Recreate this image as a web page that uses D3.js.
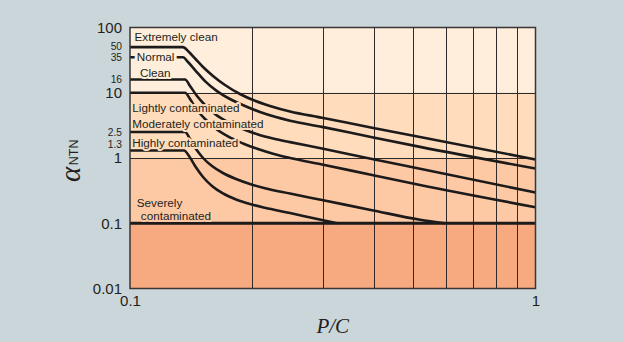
<!DOCTYPE html>
<html><head><meta charset="utf-8">
<script src="https://cdn.jsdelivr.net/npm/d3@7/dist/d3.min.js"></script>
<style>
html,body{margin:0;padding:0;background:#cbd6da;}
svg{display:block;}
</style></head>
<body><svg id="c" width="624" height="342"></svg>
<script>
// ---- data ----
const xTickLabels = [0.1, 1];
const xGridValues = [0.2, 0.3, 0.4, 0.5, 0.6, 0.7, 0.8, 0.9];
const yMajorTicks = [100, 10, 1, 0.1, 0.01];
const yMinorTicks = [50, 35, 16, 2.5, 1.3];
const bandEdges = [100, 10, 1, 0.1, 0.01];
const seriesNames = ["Extremely clean", "Normal", "Clean", "Lightly contaminated",
  "Moderately contaminated", "Highly contaminated", "Severely contaminated"];
const extremelyClean = [[0.1,50],[0.1351,50],[0.1398,42.1],[0.1447,33.5],[0.1514,24.8],[0.1602,18.1],[0.1715,13.15],[0.1867,9.57],[0.2033,7.53],[0.2214,6.27],[0.2481,5.16],[0.2975,4.15],[0.3953,2.91],[0.5191,2.10],[1,0.948]];
const normal = [[0.1,35],[0.1351,35],[0.139,29.6],[0.1447,22.3],[0.1531,15.1],[0.1639,10.6],[0.1764,8.02],[0.1921,6.27],[0.2092,5.07],[0.2278,4.28],[0.2481,3.73],[0.2975,3.0],[0.3953,2.08],[0.5191,1.48],[1,0.69]];
const clean = [[0.1,16],[0.1367,16],[0.1406,12.7],[0.1463,8.92],[0.1531,6.49],[0.162,4.72],[0.1744,3.56],[0.1899,2.78],[0.2068,2.29],[0.2265,1.97],[0.2481,1.75],[0.2975,1.40],[0.3953,0.965],[0.5191,0.683],[1,0.296]];
const lightly = [[0.1,10],[0.1367,10],[0.1406,8.02],[0.1463,5.44],[0.1531,3.96],[0.162,2.88],[0.1744,2.14],[0.1899,1.67],[0.2068,1.37],[0.2265,1.15],[0.2481,1.0],[0.2975,0.795],[0.3953,0.549],[0.5191,0.386],[1,0.176]];
const moderately = [[0.1,2.5],[0.1367,2.5],[0.1406,1.96],[0.1455,1.37],[0.1514,1.0],[0.1593,0.754],[0.1695,0.589],[0.1826,0.477],[0.1976,0.40],[0.2152,0.343],[0.2481,0.285],[0.2975,0.227],[0.3953,0.1585],[0.5191,0.113],[0.5981,0.1]];
const highly = [[0.1,1.3],[0.1359,1.3],[0.1398,1.07],[0.1447,0.754],[0.1514,0.512],[0.1593,0.372],[0.1695,0.286],[0.1826,0.231],[0.1976,0.197],[0.2152,0.1725],[0.2481,0.1436],[0.2859,0.118],[0.3241,0.1]];
const severely = [[0.1,0.1],[1,0.1]];

// ---- layout ----
const svg = d3.select("#c");
const L = 130, R = 535.5, T = 27.5, B = 288.5;
const x = d3.scaleLog().domain([0.1, 1]).range([L, R]);
const y = d3.scaleLog().domain([0.01, 100]).range([B, T]);
const bandColors = ["#feeedb", "#fedcbc", "#fdc9a4", "#f7a97f"];
const bandColor = v => v >= 10 ? bandColors[0] : v >= 1 ? bandColors[1] : v >= 0.1 ? bandColors[2] : bandColors[3];
const ink = "#231f20";

svg.append("rect").attr("width",624).attr("height",342).attr("fill","#cbd6da");

// bands
svg.selectAll("rect.band").data(d3.pairs(bandEdges)).join("rect")
  .attr("class","band")
  .attr("x", L).attr("width", R - L)
  .attr("y", d => y(d[0])).attr("height", d => y(d[1]) - y(d[0]))
  .attr("fill", (d, i) => bandColors[i]);

// grid
const g = svg.append("g").attr("stroke", "#2e2a2a").attr("stroke-width", 1);
g.selectAll("line.v").data(xGridValues).join("line")
  .attr("x1", d => Math.round(x(d)) + 0.5).attr("x2", d => Math.round(x(d)) + 0.5)
  .attr("y1", T).attr("y2", B);
g.selectAll("line.h").data([10, 1]).join("line")
  .attr("y1", d => Math.round(y(d)) + 0.5).attr("y2", d => Math.round(y(d)) + 0.5)
  .attr("x1", L).attr("x2", R);

// curves
const line = d3.line().x(d => x(d[0])).y(d => y(d[1])).curve(d3.curveMonotoneX);
const allSeries = [extremelyClean, normal, clean, lightly, moderately, highly];
svg.append("g").selectAll("path").data(allSeries).join("path")
  .attr("d", line).attr("fill", "none").attr("stroke", "#1c1a1a")
  .attr("stroke-width", 2.6).attr("stroke-linejoin", "round");
svg.append("path").datum(severely).attr("d", d3.line().x(d => x(d[0])).y(d => y(d[1])))
  .attr("fill", "none").attr("stroke", "#1c1a1a").attr("stroke-width", 2.8);

// series labels
const labels = [
  {t: seriesNames[0], x: 134.5, y: 40.7, v: 50, h: 4},
  {t: seriesNames[1], x: 136.8, y: 60.5, v: 35, h: 6},
  {t: seriesNames[2], x: 140, y: 76.5, v: 16, h: 4},
  {t: seriesNames[3], x: 132.3, y: 111.5, v: 5, h: 4},
  {t: seriesNames[4], x: 132.3, y: 127.5, v: 3, h: 4},
  {t: seriesNames[5], x: 132.3, y: 147.3, v: 1.5, h: 4},
  {t: "Severely", x: 136.8, y: 207.3, v: 0.5, h: 4},
  {t: "contaminated", x: 140.8, y: 220.3, v: 0.5, h: 4}
];
svg.append("g").selectAll("text").data(labels).join("text")
  .attr("x", d => d.x).attr("y", d => d.y).text(d => d.t)
  .attr("font-family", "Liberation Sans, Arial, sans-serif").attr("font-size", 11.7)
  .attr("fill", ink).attr("stroke", d => bandColor(d.v)).attr("stroke-width", d => d.h)
  .attr("stroke-linejoin", "round").attr("paint-order", "stroke");

// frame
svg.append("rect").attr("x", L).attr("y", T).attr("width", R - L).attr("height", B - T)
  .attr("fill", "none").attr("stroke", "#3a3636").attr("stroke-width", 1.5);

// y tick labels
svg.append("g").selectAll("text").data(yMajorTicks).join("text")
  .attr("x", 122).attr("y", d => y(d)).attr("dy", "0.36em")
  .attr("text-anchor", "end").attr("font-family", "Liberation Sans, Arial, sans-serif")
  .attr("font-size", 15).attr("fill", ink).text(d => d3.format("~g")(d));
svg.append("g").selectAll("text").data(yMinorTicks).join("text")
  .attr("x", 122).attr("y", d => y(d) + (d === 1.3 ? -6.5 : d === 50 ? -1 : 0)).attr("dy", "0.36em")
  .attr("text-anchor", "end").attr("font-family", "Liberation Sans, Arial, sans-serif")
  .attr("font-size", 10.2).attr("fill", ink).text(d => d3.format("~g")(d));

// x tick labels
svg.append("g").selectAll("text").data(xTickLabels).join("text")
  .attr("x", d => x(d) + 0.5).attr("y", 306)
  .attr("text-anchor", "middle").attr("font-family", "Liberation Sans, Arial, sans-serif")
  .attr("font-size", 15).attr("fill", ink).text(d => d3.format("~g")(d));

// axis titles
svg.append("text").attr("x", (L + R) / 2).attr("y", 333).attr("text-anchor", "middle")
  .attr("font-family", "Liberation Serif, Times New Roman, serif").attr("font-style", "italic")
  .attr("font-size", 21).attr("fill", ink).text("P/C");
const yt = svg.append("text").attr("transform", "translate(80,182) rotate(-90)").attr("fill", ink);
yt.append("tspan").attr("font-family", "Liberation Serif, Times New Roman, serif")
  .attr("font-style", "italic").attr("font-size", 29).text("α");
yt.append("tspan").attr("font-family", "Liberation Sans, Arial, sans-serif")
  .attr("font-size", 12.5).attr("dx", 1.5).attr("dy", -2.5).text("NTN");
</script></body></html>
